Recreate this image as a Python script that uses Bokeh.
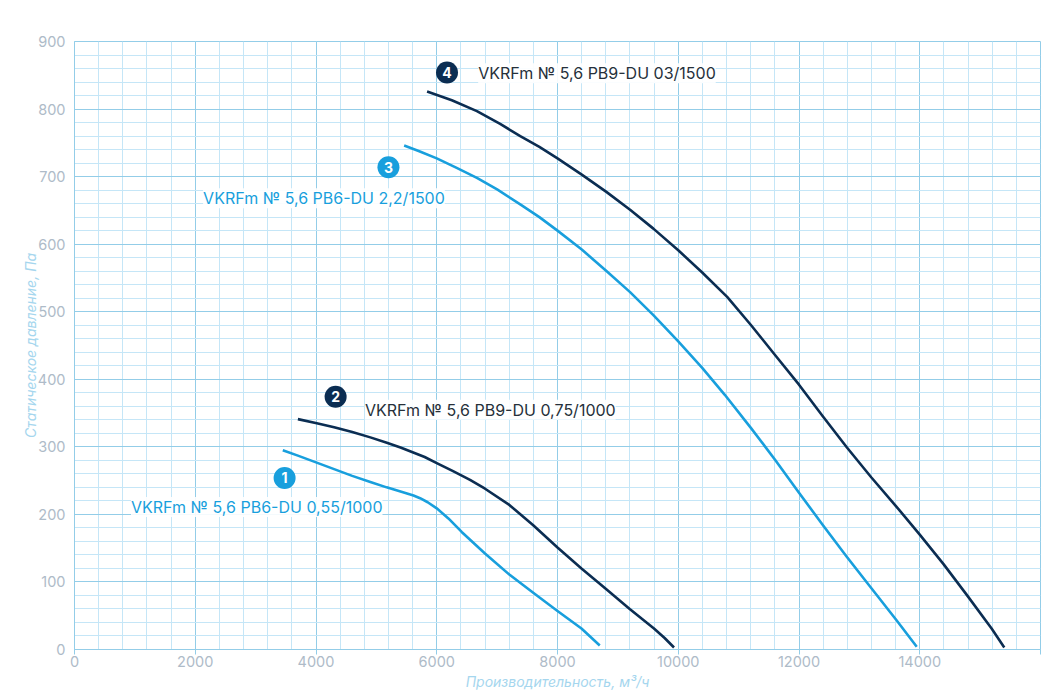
from bokeh.plotting import figure
from bokeh.embed import file_html
from bokeh.resources import INLINE
from bokeh.core.properties import value
from bokeh.models import FixedTicker

curve1_x = [3450, 3700, 4000, 4300, 4600, 4900, 5170, 5400, 5615, 5724, 5850, 6000, 6193, 6413, 6799, 7202, 7598, 8000, 8397, 8700]
curve1_y = [295, 287, 277, 267, 257, 248, 240, 234, 228, 224, 218, 209, 194, 174, 142, 111, 84, 57, 31, 6]
curve2_x = [3700, 4013, 4300, 4600, 4900, 5173, 5400, 5600, 5800, 6000, 6270, 6551, 6800, 7202, 7598, 8000, 8397, 8799, 9196, 9598, 9774, 9930]
curve2_y = [341, 335, 329, 322, 314, 306, 299, 292, 285, 276, 264, 251, 238, 214, 184, 151, 120, 90, 60, 31, 17, 3]
curve3_x = [5460, 5700, 6000, 6330, 6665, 7000, 7383, 7700, 8000, 8402, 8815, 9202, 9588, 10000, 10397, 10771, 11212, 11603, 12000, 12397, 12794, 13196, 13609, 13950]
curve3_y = [746, 738, 727, 713, 698, 681, 659, 640, 620, 592, 560, 529, 495, 456, 417, 377, 327, 281, 232, 184, 137, 91, 44, 4]
curve4_x = [5840, 6250, 6665, 7050, 7383, 7700, 8000, 8402, 8815, 9202, 9588, 10000, 10397, 10810, 11207, 11603, 12000, 12397, 12794, 13196, 13609, 14000, 14397, 14794, 15190, 15400]
curve4_y = [826, 813, 797, 778, 760, 744, 727, 703, 677, 651, 623, 591, 558, 522, 480, 436, 392, 345, 299, 255, 212, 170, 126, 79, 31, 3]

names = ["VKRFm № 5,6 PB6-DU 0,55/1000", "VKRFm № 5,6 PB9-DU 0,75/1000",
         "VKRFm № 5,6 PB6-DU 2,2/1500", "VKRFm № 5,6 PB9-DU 03/1500"]
name_x = [936, 4812, 2130, 6686]
name_y = [211, 355, 668, 853]
badge_labels = ["1", "2", "3", "4"]
badge_x = [3480, 4325, 5200, 6170]
badge_y = [254, 374, 714, 854]
x_ticks = list(range(0, 16001, 2000))
y_ticks = list(range(0, 901, 100))
x_minor = list(range(0, 16001, 400))
y_minor = list(range(0, 901, 20))

BLUE = "#189fdd"
NAVY = "#0b2d52"
MAJOR = "#93cde8"
MINOR = "#c5e6f7"
TICKTXT = "#aebbc8"
TITLE = "#a5d6ee"
FONT = "Inter"

p = figure(width=1048, height=692, x_range=(0, 16000), y_range=(0, 900),
           output_backend="svg", toolbar_location=None,
           min_border_left=74, min_border_right=8, min_border_top=41, min_border_bottom=41)
p.background_fill_color = "white"
p.border_fill_color = "white"
p.outline_line_color = MAJOR
p.outline_line_width = 1

for ax in (p.xaxis[0], p.yaxis[0]):
    ax.major_label_text_color = TICKTXT
    ax.major_label_text_font = FONT
    ax.major_label_text_font_size = "14.5px"
    ax.axis_line_color = MAJOR
    ax.major_tick_line_color = MAJOR
    ax.minor_tick_line_color = None
    ax.major_tick_in = 0
    ax.axis_label_text_color = TITLE
    ax.axis_label_text_font = FONT
    ax.axis_label_text_font_style = "italic"
    ax.axis_label_text_font_size = "14px"

p.xaxis[0].ticker = FixedTicker(ticks=x_ticks, minor_ticks=x_minor)
p.yaxis[0].ticker = FixedTicker(ticks=y_ticks, minor_ticks=y_minor)
p.xaxis[0].major_tick_out = 5
p.yaxis[0].major_tick_out = 0
p.xaxis[0].major_label_overrides = {16000: ""}
p.xaxis[0].major_label_standoff = 1
p.yaxis[0].major_label_standoff = 5
p.xaxis[0].axis_label = "Производительность, м³/ч"
p.yaxis[0].axis_label = "Статическое давление, Па"
p.xaxis[0].axis_label_standoff = 3
p.yaxis[0].axis_label_standoff = -4

for g in (p.xgrid[0], p.ygrid[0]):
    g.grid_line_color = MAJOR
    g.grid_line_width = 1
    g.minor_grid_line_color = MINOR
    g.minor_grid_line_width = 1
    g.level = "underlay"

p.text(x=[16000], y=[0], text=["16000"], text_align="right", text_baseline="top",
       x_offset=1, y_offset=6, text_color=TICKTXT, text_font=value(FONT),
       text_font_size="14.5px")

for xs, ys, col in ((curve1_x, curve1_y, BLUE), (curve2_x, curve2_y, NAVY),
                    (curve3_x, curve3_y, BLUE), (curve4_x, curve4_y, NAVY)):
    p.line(xs, ys, line_color=col, line_width=2.6, line_join="round")

text_cols = [BLUE, "#26303a", BLUE, "#26303a"]
p.text(x=name_x, y=name_y, text=names, text_color=text_cols, text_font=value(FONT),
       text_font_size="16px", text_baseline="middle", text_align="left",
       background_fill_color="white", background_fill_alpha=0.9)

badge_cols = [BLUE, NAVY, BLUE, NAVY]
p.scatter(badge_x, badge_y, size=22, marker="circle", fill_color=badge_cols, line_color=None)
p.text(x=badge_x, y=badge_y, text=badge_labels, text_color="white", text_font=value(FONT),
       text_font_style="bold", text_font_size="14px", text_align="center", text_baseline="middle")

open("out.html", "w").write(file_html(p, INLINE))
